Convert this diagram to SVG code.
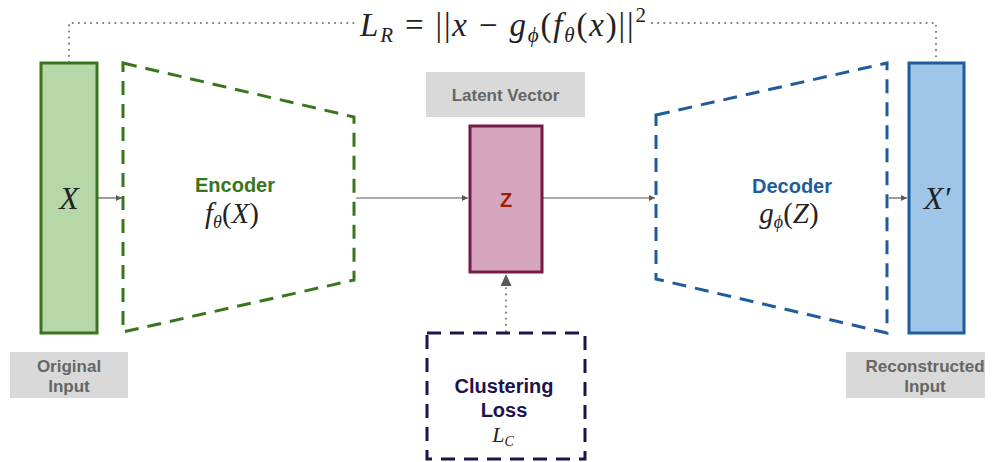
<svg xmlns="http://www.w3.org/2000/svg" width="994" height="462" viewBox="0 0 994 462">
<style>
.lbl{fill:#d9d9d9}
.lbltx{font-family:"Liberation Sans",Arial,sans-serif;font-weight:bold;font-size:17px;fill:#666666;text-anchor:middle}
.math{font-family:"Liberation Serif","Times New Roman",serif;font-style:italic;fill:#222}
.up{font-style:normal}
.conn{stroke:#595959;stroke-width:1.2;fill:none}
.dot{stroke:#777;stroke-width:2;fill:none;stroke-dasharray:0.1 6;stroke-linecap:round}
.head{font-family:"Liberation Sans",Arial,sans-serif;font-weight:bold;font-size:20px;text-anchor:middle}
</style>
<defs>
<marker id="ah" markerWidth="8" markerHeight="8" refX="6" refY="3" orient="auto" markerUnits="userSpaceOnUse">
<path d="M0,0 L6,3 L0,6 z" fill="#595959"/>
</marker>
<marker id="ahBig" markerWidth="14" markerHeight="14" refX="12" refY="5.500" orient="auto" markerUnits="userSpaceOnUse">
<path d="M0,0 L12,5.500 L0,11 z" fill="#595959"/>
</marker>
</defs>

<g id="connectors">
<path class="dot" d="M69,62 V23 H358"/>
<path class="dot" d="M652,23 H936 V62"/>
<line class="conn" x1="98" y1="198" x2="122" y2="198" marker-end="url(#ah)"/>
<line class="conn" x1="356" y1="198" x2="468" y2="198" marker-end="url(#ah)"/>
<line class="conn" x1="543" y1="198" x2="655" y2="198" marker-end="url(#ah)"/>
<line class="conn" x1="889" y1="198" x2="907" y2="198" marker-end="url(#ah)"/>
<path class="dot" d="M506,331 V286"/>
<line x1="506" y1="290" x2="506" y2="274" stroke="none" marker-end="url(#ahBig)"/>
</g>

<g id="loss-recon">
<text class="math" x="360" y="36" font-size="33" textLength="286" lengthAdjust="spacing">L<tspan font-size="21" dy="6">R</tspan><tspan class="up" dy="-6"> = ||</tspan>x<tspan class="up"> − </tspan>g<tspan font-size="21" dy="6">ϕ</tspan><tspan class="up" dy="-6">(</tspan>f<tspan font-size="21" dy="6">θ</tspan><tspan class="up" dy="-6">(</tspan>x<tspan class="up">)||</tspan><tspan class="up" font-size="21" dy="-14">2</tspan></text>
</g>

<g id="input">
<rect x="41" y="63" width="56" height="270" fill="#b6d7a8" stroke="#38761d" stroke-width="3"/>
<text class="math" x="69" y="209" font-size="32" text-anchor="middle">X</text>
</g>

<g id="input-label">
<rect class="lbl" x="10" y="352" width="118" height="46"/>
<text class="lbltx" x="69" y="372">Original</text>
<text class="lbltx" x="69" y="392">Input</text>
</g>

<g id="encoder">
<polygon points="123,63 354,117 354,280 123,332" fill="none" stroke="#38761d" stroke-width="3" stroke-dasharray="14,9"/>
<text class="head" x="235" y="192" fill="#38761d">Encoder</text>
<text class="math" x="232" y="223" font-size="29" text-anchor="middle">f<tspan font-size="18" dy="5">θ</tspan><tspan class="up" dy="-5">(</tspan>X<tspan class="up">)</tspan></text>
</g>

<g id="latent-label">
<rect class="lbl" x="426" y="72" width="159" height="45"/>
<text class="lbltx" x="505.500" y="101">Latent Vector</text>
</g>

<g id="latent">
<rect x="470" y="126" width="72" height="146" fill="#d5a6bd" stroke="#741b47" stroke-width="3"/>
<text x="506" y="207" font-family="'Liberation Sans',Arial,sans-serif" font-weight="bold" font-size="20" fill="#a61c00" text-anchor="middle">Z</text>
</g>

<g id="decoder">
<polygon points="656,115 887,63 887,333 656,279" fill="none" stroke="#1f5c9b" stroke-width="3" stroke-dasharray="14,9"/>
<text class="head" x="792" y="193" fill="#1f5c9b">Decoder</text>
<text class="math" x="789" y="223" font-size="29" text-anchor="middle">g<tspan font-size="18" dy="5">ϕ</tspan><tspan class="up" dy="-5">(</tspan>Z<tspan class="up">)</tspan></text>
</g>

<g id="output">
<rect x="909" y="63" width="55" height="270" fill="#9fc5e8" stroke="#1f5c9b" stroke-width="3"/>
<text class="math" x="937" y="209" font-size="32" text-anchor="middle">X′</text>
</g>

<g id="output-label">
<rect class="lbl" x="846" y="352" width="139" height="46"/>
<text class="lbltx" x="925" y="372">Reconstructed</text>
<text class="lbltx" x="925" y="392">Input</text>
</g>

<g id="clustering">
<rect x="427" y="333" width="158" height="126" fill="none" stroke="#20124d" stroke-width="3" stroke-dasharray="14,9"/>
<text class="head" x="504" y="393" fill="#20124d">Clustering</text>
<text class="head" x="504" y="417" fill="#20124d">Loss</text>
<text class="math" x="503" y="442" font-size="22" text-anchor="middle">L<tspan font-size="14" dy="4">C</tspan></text>
</g>
</svg>
